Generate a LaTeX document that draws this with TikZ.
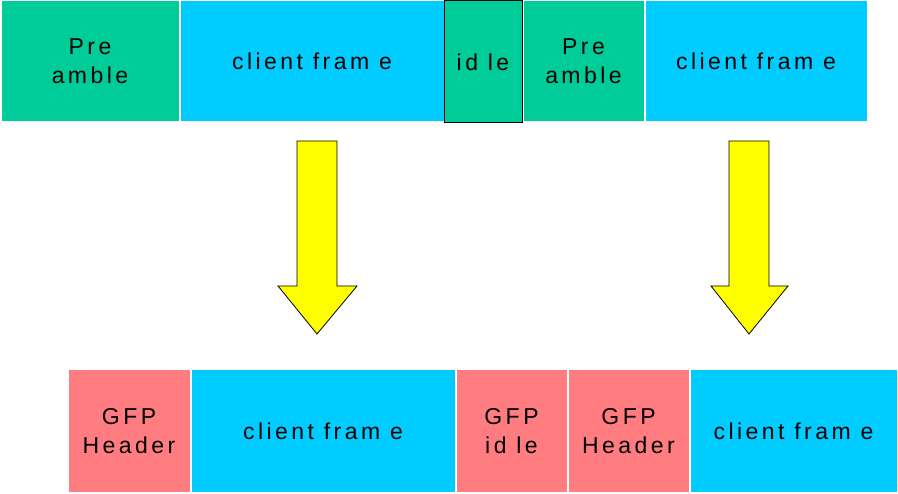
\documentclass[tikz,border=0pt]{standalone}
\usepackage{fontspec}
\setmainfont{Liberation Sans}[LetterSpace=15]
\definecolor{pregreen}{RGB}{0,204,153}
\definecolor{framecyan}{RGB}{0,204,255}
\definecolor{gfppink}{RGB}{255,124,128}
\definecolor{arrowyellow}{RGB}{255,255,0}
\begin{document}
\begin{tikzpicture}[x=1pt,y=-1pt,
  field/.style={draw=white, line width=1pt, inner sep=0pt, align=center,
    font=\fontsize{23}{29}\selectfont, text=black},
  bigarrow/.style={fill=arrowyellow, draw=black, line width=0.8pt, line join=miter}]
\useasboundingbox (0,0) rectangle (898,494);

% incoming stream
\node[field, fill=pregreen,  minimum width=178, minimum height=121] (pre1) at (90,61.5)    {Pre\\amble};
\node[field, fill=framecyan, minimum width=264, minimum height=121] (cf1)  at (312,61.5)   {client fram e};
\node[field, fill=pregreen,  draw=black, minimum width=78, minimum height=122] (idle) at (483,62) {id le};
\node[field, fill=pregreen,  minimum width=121, minimum height=121] (pre2) at (583.5,61.5) {Pre\\amble};
\node[field, fill=framecyan, minimum width=222, minimum height=121] (cf2)  at (756,61.5)   {client fram e};

% GFP-mapped stream
\node[field, fill=gfppink,   minimum width=122, minimum height=123] (hd1) at (129,431.5)   {GFP\\Header};
\node[field, fill=framecyan, minimum width=264, minimum height=123] (cf3) at (323,431.5)   {client fram e};
\node[field, fill=gfppink,   minimum width=111, minimum height=123] (gid) at (511.5,431.5) {GFP\\id le};
\node[field, fill=gfppink,   minimum width=121, minimum height=123] (hd2) at (628.5,431.5) {GFP\\Header};
\node[field, fill=framecyan, minimum width=207, minimum height=123] (cf4) at (793.5,431.5) {client fram e};

% mapping arrows
\draw[bigarrow] (297,141) -- (337,141) -- (337,286) -- (357,286) -- (317,334)
  -- (278,286) -- (297,286) -- cycle;
\draw[bigarrow] (729,141) -- (769,141) -- (769,286) -- (788,286) -- (749,334)
  -- (711,286) -- (729,286) -- cycle;
\end{tikzpicture}
\end{document}
